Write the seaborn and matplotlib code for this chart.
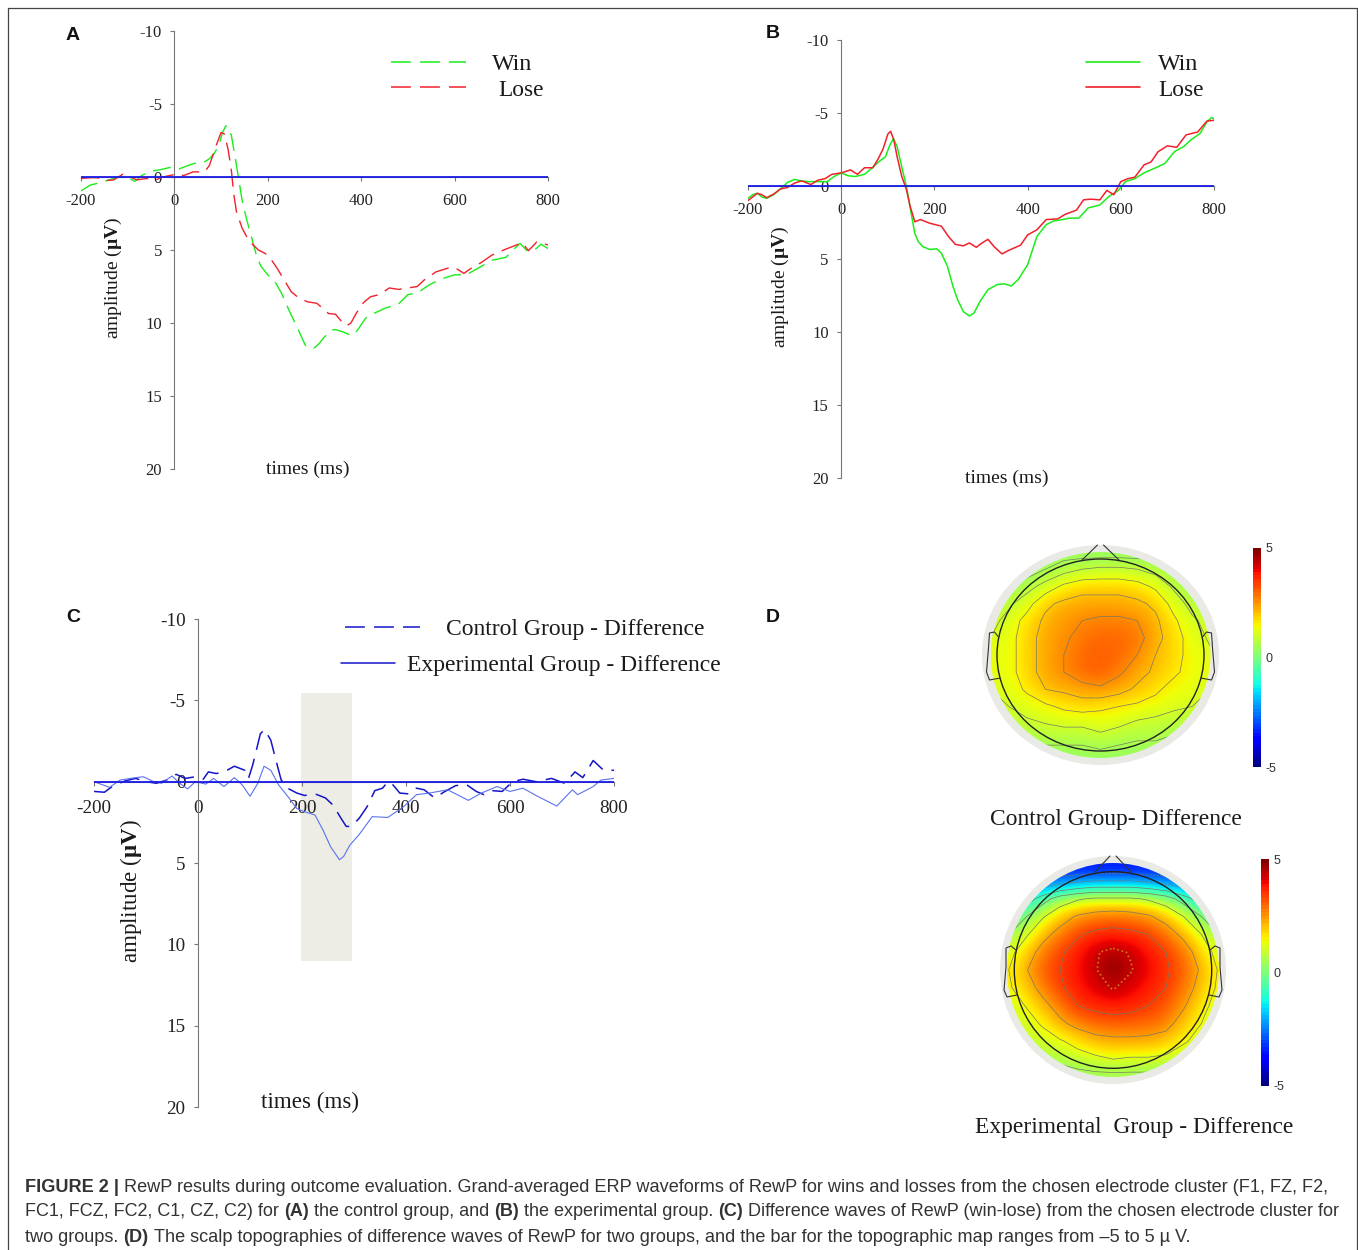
import numpy as np
import matplotlib
matplotlib.use('Agg')
import matplotlib.pyplot as plt
import seaborn as sns
from matplotlib.patches import Ellipse
from matplotlib.cm import ScalarMappable
from matplotlib.colors import Normalize

# panel A, control group
a_win_t = [-200,-180,-160,-140,-120,-100,-85,-70,-50,-30,-10,10,30,50,65,75,85,95,103,110,115,122,130,137,145,155,165,175,185,200,215,230,245,260,270,280,290,300,310,320,335,345,360,375,385,395,410,430,450,480,500,520,545,570,600,625,650,680,710,725,740,755,775,785,800]
a_win_v = [.95,.55,.4,.2,0,0,.3,-.1,-.4,-.5,-.65,-.55,-.8,-1,-1.05,-1.25,-1.6,-2.15,-3.05,-3.5,-3.45,-2.85,-1.35,0,1.6,2.95,4.1,5.3,6.1,6.7,7.15,8,9.1,10.1,10.8,11.5,11.75,11.7,11.4,11,10.5,10.45,10.6,10.8,10.8,10.35,9.65,9.3,9,8.7,8.05,7.95,7.4,7,6.7,6.7,6.25,5.7,5.5,5,4.55,5.05,4.9,4.6,4.9]
a_lose_t = [-200,-180,-165,-150,-130,-110,-95,-80,-60,-40,-25,-10,5,20,40,65,75,90,100,107,115,122,127,133,145,155,165,180,195,205,220,235,250,265,285,305,318,330,345,358,368,378,390,405,420,440,460,480,500,520,535,560,585,600,620,640,655,680,705,725,745,758,776,800]
a_lose_v = [.1,.05,.05,.25,.2,-.2,0,.2,.1,.2,0,-.1,-.2,-.1,-.35,-.35,-.8,-2.2,-3.05,-2.95,-1.9,-.45,1.15,2.4,3.5,4.1,4.55,5,5.25,5.55,6.25,7.05,7.85,8.25,8.55,8.65,9,9.35,9.4,9.9,10.2,10,9.3,8.6,8.2,8.05,7.6,7.7,7.6,7.5,7.05,6.5,6.25,6.2,6.6,6.15,5.9,5.35,5,4.75,4.5,5.05,4.45,4.65]

# panel B, experimental group
b_win_t = [-200,-190,-180,-170,-160,-145,-125,-115,-100,-85,-70,-50,-30,-15,0,15,30,50,65,80,95,103,112,120,130,140,150,158,165,175,190,205,215,228,240,250,262,275,285,298,315,335,350,365,380,400,420,440,455,475,490,510,530,555,575,595,610,630,650,675,695,715,735,750,770,785,795,800]
b_win_v = [.85,.6,.5,.75,.85,.6,.05,-.25,-.45,-.35,-.3,-.3,-.3,-.65,-.9,-.7,-.65,-.8,-1.2,-1.65,-2,-2.7,-3.25,-2.7,-1.3,.05,1.85,3.25,3.8,4.15,4.35,4.3,4.6,5.5,6.9,7.8,8.6,8.9,8.7,7.9,7.1,6.75,6.7,6.85,6.4,5.4,3.45,2.65,2.4,2.3,2.2,2.2,1.5,1.3,.7,.3,-.3,-.5,-.9,-1.25,-1.55,-2.35,-2.7,-3.15,-3.6,-4.4,-4.7,-4.6]
b_lose_t = [-200,-190,-180,-170,-160,-145,-130,-115,-100,-85,-65,-50,-35,-20,0,20,35,50,68,80,90,100,106,113,120,130,140,148,158,170,190,215,230,245,262,275,290,300,315,328,345,360,385,400,420,440,465,480,505,520,535,555,570,585,600,615,630,650,665,680,700,720,740,765,785,800]
b_lose_v = [1,.75,.5,.6,.8,.55,.2,.1,-.2,-.35,-.1,-.4,-.5,-.8,-.9,-1.1,-.8,-1.25,-1.25,-1.9,-2.55,-3.55,-3.75,-3.15,-2,-.65,.25,1.4,2.45,2.3,2.55,2.75,3.45,4,4.1,3.9,4.2,3.95,3.65,4.15,4.65,4.4,4.05,3.35,3,2.3,2.25,1.95,1.65,.95,.9,.95,.3,.6,-.3,-.5,-.6,-1.45,-1.65,-2.35,-2.75,-2.65,-3.5,-3.7,-4.45,-4.5]

# panel C, win minus lose
c_ctrl_t = [-200,-180,-165,-140,-120,-100,-80,-60,-42,-25,-5,10,20,35,50,70,90,97,105,120,128,140,150,160,175,190,205,225,245,260,275,285,295,310,325,340,355,365,375,388,405,420,435,455,475,495,515,535,550,565,585,605,625,650,680,705,725,740,760,780,800]
c_ctrl_v = [.6,.65,.3,-.05,-.2,0,.1,-.1,-.45,-.2,-.3,-.15,-.6,-.5,-.6,-.95,-.7,-.2,-1,-2.95,-3.2,-2.55,-1.3,-.1,.45,.7,.85,.75,1,1.45,2.25,2.75,2.75,2.25,1.55,.55,.4,0,.2,.7,.75,.4,.5,1,.6,.25,.15,.6,.8,.55,.6,0,-.15,0,-.2,.1,-.6,-.25,-1.3,-.7,-.7]
c_exp_t = [-200,-170,-150,-120,-105,-85,-70,-50,-35,-20,-5,15,30,50,70,85,100,115,127,140,155,175,190,205,225,240,255,272,280,292,310,335,365,395,420,445,480,520,545,575,600,625,650,690,720,730,760,775,800]
c_exp_v = [0,.35,-.1,-.25,-.3,0,.1,-.35,.1,.45,0,.15,-.2,.3,-.25,.2,.9,.1,-.95,-.7,.2,1,1.65,1.85,2.05,2.95,4,4.8,4.6,3.9,3.25,2.15,2.2,1.55,.8,.7,.5,1.15,.7,.3,.6,.4,.85,1.5,.5,.8,.3,-.1,-.2]

x_ticks = [-200, 0, 200, 400, 600, 800]
y_ticks = [-10, -5, 0, 5, 10, 15, 20]
window_ms = [198, 296]
window_uv = [-5.47, 11]

# scalp maps, rows top to bottom, columns left to right
control_map = np.array([
    [.2,.3,.3,.4,.4,.4,.4,.4,.4,.4,.3,.3,.2],
    [.2,.3,.4,.7,1.0,1.2,1.3,1.3,1.2,1.0,.7,.3,.2],
    [.4,.6,1.0,1.4,1.8,2.0,2.0,2.0,1.9,1.6,1.1,.6,.4],
    [.7,1.1,1.5,2.1,2.3,2.4,2.4,2.4,2.3,2.1,1.5,1.0,.7],
    [1.0,1.4,1.9,2.3,2.5,2.7,2.8,2.8,2.7,2.3,1.8,1.3,1.0],
    [1.2,1.5,2.0,2.4,2.6,2.9,3.0,3.0,2.9,2.4,1.9,1.5,1.1],
    [1.3,1.5,2.0,2.4,2.7,3.0,3.1,3.0,2.7,2.2,1.9,1.5,1.3],
    [1.3,1.5,2.0,2.4,2.7,3.0,3.1,2.8,2.4,2.1,1.8,1.5,1.3],
    [1.2,1.4,1.8,2.2,2.3,2.5,2.6,2.4,2.1,1.8,1.5,1.4,1.2],
    [1.0,1.2,1.4,1.6,1.8,1.9,1.8,1.7,1.6,1.5,1.3,1.2,1.0],
    [.7,.9,1.1,1.2,1.3,1.3,1.4,1.3,1.1,1.0,.9,.8,.7],
    [.3,.5,.7,.8,.8,.8,1.0,.8,.7,.7,.6,.5,.3],
    [.2,.3,.3,.4,.4,.4,.4,.4,.4,.4,.3,.3,.2],
])
experimental_map = np.array([
    [-3.5,-3.5,-3.5,-3.5,-3.5,-3.5,-3.5,-3.5,-3.5,-3.5,-3.5,-3.5,-3.5],
    [-2.4,-2.2,-1.9,-1.5,-1.2,-1,-1,-1,-1.2,-1.5,-1.9,-2.2,-2.4],
    [-1.4,-.6,.4,1.2,1.6,1.8,1.8,1.8,1.6,1.2,.4,-.5,-1.4],
    [-.2,.7,1.6,2.3,2.8,3,3.1,3,2.8,2.4,1.7,.8,0],
    [.7,1.5,2.4,3,3.5,3.8,3.9,3.8,3.6,3.1,2.5,1.7,.8],
    [1.3,2.2,3,3.5,3.9,4.4,4.6,4.4,4,3.6,3.1,2.3,1.3],
    [1.6,2.6,3.2,3.6,4,4.4,4.9,4.5,4.1,3.7,3.2,2.6,1.6],
    [1.5,2.2,3,3.5,3.9,4.2,4.5,4.2,3.9,3.6,3.1,2.4,1.5],
    [1.2,1.7,2.4,3.1,3.6,3.8,3.9,3.8,3.6,3.3,2.8,2,1.3],
    [1,1.3,1.8,2.5,3,3.2,3.3,3.3,3.1,3,2.3,1.7,1.1],
    [.7,1,1.3,1.6,2,2.4,2.5,2.5,2.5,2.3,1.8,1.4,.9],
    [.3,.6,.8,1,1.3,1.5,1.7,1.6,1.6,1.5,1.2,.9,.4],
    [0,.1,.2,.3,.4,.5,.5,.5,.5,.4,.3,.2,0],
])

caption_lines = [
    [('FIGURE 2 |', True), ('RewP results during outcome evaluation. Grand-averaged ERP waveforms of RewP for wins and losses from the chosen electrode cluster (F1, FZ, F2,', False)],
    [('FC1, FCZ, FC2, C1, CZ, C2) for', False), ('(A)', True), ('the control group, and', False), ('(B)', True), ('the experimental group.', False), ('(C)', True), ('Difference waves of RewP (win-lose) from the chosen electrode cluster for', False)],
    [('two groups.', False), ('(D)', True), ('The scalp topographies of difference waves of RewP for two groups, and the bar for the topographic map ranges from \u20135 to 5 \u00b5 V.', False)],
]
caption_sizes = [13.05, 13, 13.1]

W, H = 1358, 1250
SERIF = 'Liberation Serif'
SANS = 'Liberation Sans'

sns.set_theme(style='white')
plt.rcParams['font.family'] = [SERIF, 'DejaVu Serif']
plt.rcParams['mathtext.fontset'] = 'custom'
plt.rcParams['mathtext.rm'] = SERIF
plt.rcParams['mathtext.bf'] = SERIF + ':bold'


def pixel_axes(fig, left, top, right, bottom):
    return fig.add_axes([left / W, 1 - bottom / H, (right - left) / W, (bottom - top) / H])


def erp_panel(fig, box, series, tick_size, x_pad):
    left, top, right, bottom = box
    ax = pixel_axes(fig, left, top, right, bottom)
    ax.patch.set_alpha(0)
    for t, v, color, lw, dash in series:
        sns.lineplot(x=t, y=v, color=color, linewidth=lw, linestyle=dash, estimator=None, ax=ax)
    sns.lineplot(x=[x_ticks[0], x_ticks[-1]], y=[0, 0], color='#1a1ae6', linewidth=1.3, estimator=None, ax=ax, zorder=3)
    ax.set_xlim(-200, 800)
    ax.set_ylim(20, -10)
    ax.spines['left'].set_position(('data', 0))
    ax.spines['bottom'].set_position(('data', 0))
    ax.spines['top'].set_visible(False)
    ax.spines['right'].set_visible(False)
    for side in ['left', 'bottom']:
        ax.spines[side].set_color('#777777')
        ax.spines[side].set_linewidth(0.8)
    ax.set_xticks(x_ticks)
    ax.set_yticks(y_ticks)
    ax.set_xticklabels([str(t) for t in x_ticks])
    ax.set_yticklabels([str(t) for t in y_ticks])
    ax.tick_params(axis='x', length=3, width=0.8, color='#777777', pad=x_pad, labelsize=tick_size, labelcolor='#222222')
    ax.tick_params(axis='y', length=3, width=0.8, color='#777777', pad=6, labelsize=tick_size, labelcolor='#222222')
    ax.tick_params(left=True, bottom=True)
    return ax


def head(canvas, grid, cx, cy, outer, cmap_box, ring, nose, ear, levels):
    # outer pale disc, colour field clipped to an ellipse, then the outline
    canvas.add_patch(Ellipse((cx, cy), outer[0] * 2, outer[1] * 2, color='#e9eae5', lw=0, zorder=1))
    rx, ry = cmap_box
    extent = (cx - rx, cx + rx, cy + ry, cy - ry)
    im = canvas.imshow(grid, cmap='jet', vmin=-5, vmax=5, extent=extent, aspect='auto',
                       interpolation='bicubic', zorder=2)
    clip = Ellipse((cx, cy), rx * 2, ry * 2, transform=canvas.transData)
    im.set_clip_path(clip)
    gx = np.linspace(cx - rx, cx + rx, grid.shape[1])
    gy = np.linspace(cy - ry, cy + ry, grid.shape[0])
    cs = canvas.contour(gx, gy, grid, levels=levels, colors='#777766', linewidths=0.5, zorder=3)
    cs.set_clip_path(clip)
    canvas.add_patch(Ellipse((cx, cy), ring[0] * 2, ring[1] * 2, fill=False, ec='#222222', lw=1.0, zorder=4))
    for side in [-1, 1]:
        canvas.plot([cx + side * nose[0], cx + side * nose[1]], [nose[2], nose[3]], color='#333333', lw=0.8, zorder=4)
        canvas.plot([cx + side * e[0] for e in ear], [e[1] for e in ear], color='#333333', lw=0.8, zorder=4)
    canvas.set_xlim(0, W)
    canvas.set_ylim(H, 0)
    return gx, gy


def color_bar(fig, box):
    cax = pixel_axes(fig, *box)
    sm = ScalarMappable(Normalize(-5, 5), plt.get_cmap('jet', 64))
    cb = fig.colorbar(sm, cax=cax, ticks=[-5, 0, 5])
    cb.outline.set_visible(False)
    cb.ax.tick_params(length=0, pad=3, labelsize=9, labelcolor='#333333')
    cb.ax.set_yticklabels(['-5', '0', '5'], family=SANS)


def caption(canvas, fig, x, y, runs, size):
    renderer = fig.canvas.get_renderer()
    gap = 0.278 * size * fig.dpi / 72
    for text, bold in runs:
        t = canvas.text(x, y, text, family=SANS, fontsize=size, va='center', ha='left',
                        fontweight='bold' if bold else 'normal', color='#333333')
        x = t.get_window_extent(renderer).x1 + gap


fig = plt.figure(figsize=(W / 100, H / 100), dpi=100)
canvas = fig.add_axes([0, 0, 1, 1])
canvas.set_xlim(0, W)
canvas.set_ylim(H, 0)
canvas.axis('off')

# figure frame, open at the bottom
canvas.plot([8, 8, 1357, 1357], [H, 8, 8, H], color='#444444', lw=0.9)

GREEN, RED = '#19ee19', '#f0202c'
DASH = (0, (13, 6))
erp_panel(fig, (81, 31, 548, 469), [
    (a_win_t, a_win_v, GREEN, 1.0, DASH),
    (a_lose_t, a_lose_v, RED, 1.0, DASH)], 12, 8.5)
erp_panel(fig, (748, 40, 1214, 478), [
    (b_win_t, b_win_v, GREEN, 1.1, '-'),
    (b_lose_t, b_lose_v, RED, 1.1, '-')], 12, 8.5)
ax_c = erp_panel(fig, (94, 619, 614, 1107), [
    (c_ctrl_t, c_ctrl_v, '#1414c8', 1.1, DASH),
    (c_exp_t, c_exp_v, '#5a72f0', 0.8, '-')], 13.8, 10.5)
ax_c.fill_between(window_ms, window_uv[0], window_uv[1], color='#edede6', lw=0, zorder=0)

# panel letters
for letter, x, y in [('A', 73, 35), ('B', 773, 34), ('C', 73, 617), ('D', 773, 617)]:
    canvas.text(x, y, letter, family=SANS, fontweight='bold', fontsize=14, ha='center', va='center', color='#111111')

# legends
canvas.plot([391, 466], [62, 62], color=GREEN, lw=1.1, linestyle=DASH)
canvas.plot([391, 466], [87, 87], color=RED, lw=1.1, linestyle=DASH)
canvas.plot([1086, 1140], [62, 62], color=GREEN, lw=1.2)
canvas.plot([1086, 1140], [87, 87], color=RED, lw=1.2)
canvas.plot([345, 420], [627, 627], color='#1414c8', lw=1.1, linestyle=DASH)
canvas.plot([341, 395], [663, 663], color='#1414c8', lw=1.1)
for text, x, y, size in [('Win', 492, 65, 17.3), ('Lose', 498, 90, 16.8), ('Win', 1158, 65, 17.3), ('Lose', 1158, 90, 16.8),
                         ('Control Group - Difference', 446, 629, 17),
                         ('Experimental Group - Difference', 407, 666, 17),
                         ('Control Group- Difference', 990, 820, 16.9),
                         ('Experimental  Group - Difference', 975, 1128, 16.9)]:
    canvas.text(x, y, text, fontsize=size, ha='left', va='center', color='#1a1a1a')

# axis titles
ylabel = 'amplitude ($\\mathbf{\u00b5V}$)'
for x, y, size in [(113, 278, 14), (780, 287, 14), (131, 891, 16.6)]:
    canvas.text(x, y, ylabel, fontsize=size, rotation=90, ha='center', va='center', color='#1a1a1a')
for x, y, size in [(308, 469, 14), (1007, 478, 14), (310, 1102, 16.6)]:
    canvas.text(x, y, 'times (ms)', fontsize=size, ha='center', va='center', color='#1a1a1a')

# scalp maps
ctrl_ear = [(102, 637), (106, 632), (111, 633), (112, 648), (114, 672), (111, 680), (100, 678)]
head(canvas, control_map, 1100.5, 655, (118.5, 110), (110, 103), (103.5, 96),
     (18.5, 3, 560, 545), ctrl_ear, [.7, 1.2, 1.7, 2.2, 2.7])
exp_ear = [(97, 950), (102, 946), (107, 948), (107, 967), (109, 990), (106, 997), (96, 995)]
gx, gy = head(canvas, experimental_map, 1113, 970, (113, 114), (106, 107), (98.7, 98.3),
              (18, 3, 872, 856), exp_ear, [-2, -1, 0, .8, 1.7, 2.7, 3.6])
canvas.contour(gx, gy, experimental_map, levels=[4.45], colors='#c8801e', linewidths=1.2,
               linestyles=':', zorder=3)
canvas.set_xlim(0, W)
canvas.set_ylim(H, 0)
color_bar(fig, (1252.5, 548, 1261, 767))
color_bar(fig, (1261, 859, 1269, 1086))

for i, y in enumerate([1187, 1212, 1238]):
    caption(canvas, fig, 25, y, caption_lines[i], caption_sizes[i])

fig.savefig('out.png', dpi=100)
